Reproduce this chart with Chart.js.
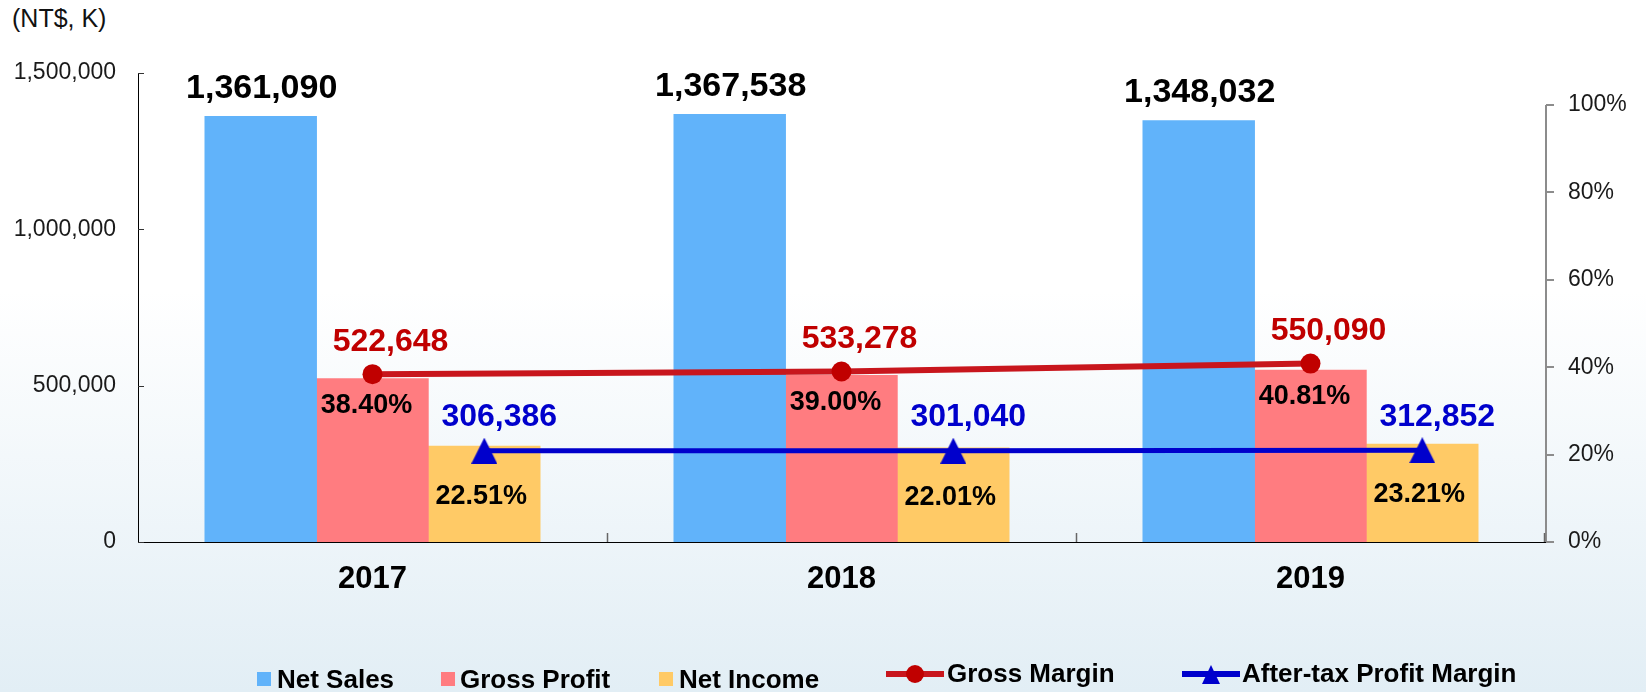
<!DOCTYPE html>
<html><head><meta charset="utf-8">
<script src="https://cdn.jsdelivr.net/npm/chart.js@4.4.1/dist/chart.umd.min.js"></script>
<style>
html,body{margin:0;padding:0;}
body{width:1646px;height:692px;overflow:hidden;position:relative;
  background:linear-gradient(to bottom,#ffffff 0%,#ffffff 42%,#e2eef5 100%);
  font-family:'Liberation Sans',Arial,sans-serif;}
#c{position:absolute;left:0;top:0;}
.unit{position:absolute;left:12px;top:4px;font-size:25px;color:#111;white-space:nowrap;}
.leg{position:absolute;font-weight:bold;font-size:26px;line-height:26px;color:#000;white-space:nowrap;}
.sw{position:absolute;width:14px;height:14px;}
.ic{position:absolute;}
</style></head><body>
<div class="unit">(NT$, K)</div>
<canvas id="c" width="1646" height="692"></canvas>
<div id="legend"></div>
<script>
// ---- data ----
const categories = ['2017', '2018', '2019'];
const netSales = [1361090, 1367538, 1348032];
const grossProfit = [522648, 533278, 550090];
const netIncome = [306386, 301040, 312852];
const grossMargin = [38.40, 39.00, 40.81];
const afterTaxMarginPlotted = [20.9, 20.9, 21.0];
const afterTaxMarginText = ['22.51%', '22.01%', '23.21%'];
const leftTicks = [0, 500000, 1000000, 1500000];
const rightTicks = [0, 20, 40, 60, 80, 100];
const seriesNames = ['Net Sales', 'Gross Profit', 'Net Income', 'Gross Margin', 'After-tax Profit Margin'];

// ---- styles ----
const FONT = "'Liberation Sans', Arial, sans-serif";
const C_NS = '#61b3fa', C_GP = '#ff7c80', C_NI = '#ffca66';
const C_RED_LINE = '#c8161d', C_RED_MK = '#c00000', C_BLUE = '#0000cc';
const GROUP_FRAC = 0.715;            // share of a category taken by the 3-bar group
const SLOT = GROUP_FRAC / 3;         // one bar slot, in category units
const fmt = v => v.toLocaleString('en-US');
// place series k (0..2) of category i on the hidden linear axis
const slotPoints = (arr, k) => arr.map((v, i) => ({ x: i + (k - 1) * SLOT, y: v }));

function triangleImg(w, h, color) {
  const cv = document.createElement('canvas');
  cv.width = w; cv.height = h;
  const g = cv.getContext('2d');
  g.fillStyle = color;
  g.beginPath(); g.moveTo(0, h); g.lineTo(w / 2, 0); g.lineTo(w, h); g.closePath(); g.fill();
  return cv;
}
const triMarker = triangleImg(26, 26, C_BLUE);

const overlay = {
  id: 'overlay',
  afterDraw(chart) {
    const ctx = chart.ctx;
    const ca = chart.chartArea;
    const y = chart.scales.y, y1 = chart.scales.y1, x = chart.scales.x;
    ctx.save();
    // left ticks (inside)
    ctx.strokeStyle = '#333'; ctx.lineWidth = 1;
    leftTicks.forEach(v => {
      const py = Math.round(y.getPixelForValue(v)) + 0.5;
      ctx.beginPath(); ctx.moveTo(ca.left, py); ctx.lineTo(ca.left + 6, py); ctx.stroke();
    });
    // right axis line + ticks
    ctx.strokeStyle = '#8c8c8c'; ctx.lineWidth = 2;
    const rx = ca.right + 1;
    ctx.beginPath(); ctx.moveTo(rx, y1.getPixelForValue(0)); ctx.lineTo(rx, y1.getPixelForValue(100)); ctx.stroke();
    rightTicks.forEach(v => {
      const py = Math.round(y1.getPixelForValue(v));
      ctx.beginPath(); ctx.moveTo(rx, py); ctx.lineTo(rx + 8, py); ctx.stroke();
    });
    // x ticks (inside, at category boundaries)
    ctx.strokeStyle = '#666'; ctx.lineWidth = 1.5;
    for (let i = 0; i < categories.length; i++) {
      const bx = i < categories.length - 1
        ? (x.getPixelForValue(i) + x.getPixelForValue(i + 1)) / 2
        : ca.right - 1;
      ctx.beginPath(); ctx.moveTo(Math.round(bx) + 0.5, ca.bottom); ctx.lineTo(Math.round(bx) + 0.5, ca.bottom - 9); ctx.stroke();
    }
    // labels
    ctx.textAlign = 'center'; ctx.textBaseline = 'middle';
    const ns = chart.getDatasetMeta(0).data, gp = chart.getDatasetMeta(1).data, ni = chart.getDatasetMeta(2).data;
    const gm = chart.getDatasetMeta(3).data, at = chart.getDatasetMeta(4).data;
    ctx.font = `bold 34px ${FONT}`; ctx.fillStyle = '#000';
    ns.forEach((b, i) => ctx.fillText(fmt(netSales[i]), b.x + 1, b.y - 28));
    ctx.font = `bold 32px ${FONT}`; ctx.fillStyle = C_RED_MK;
    gm.forEach((p, i) => ctx.fillText(fmt(grossProfit[i]), p.x + 18, p.y - 32));
    ctx.fillStyle = C_BLUE;
    at.forEach((p, i) => ctx.fillText(fmt(netIncome[i]), p.x + 15, p.y - 33));
    ctx.font = `bold 27px ${FONT}`; ctx.fillStyle = '#000';
    gp.forEach((b, i) => ctx.fillText(grossMargin[i].toFixed(2) + '%', b.x - 6, b.y + 27));
    ni.forEach((b, i) => ctx.fillText(afterTaxMarginText[i], b.x - 3, b.y + 50));
    ctx.restore();
  }
};

const barCommon = { type: 'bar', yAxisID: 'y', xAxisID: 'x2', order: 3, grouped: false,
  barPercentage: 1, categoryPercentage: 1 };

new Chart(document.getElementById('c'), {
  type: 'bar',
  data: {
    labels: categories,
    datasets: [
      { ...barCommon, label: seriesNames[0], data: slotPoints(netSales, 0), backgroundColor: C_NS },
      { ...barCommon, label: seriesNames[1], data: slotPoints(grossProfit, 1), backgroundColor: C_GP },
      { ...barCommon, label: seriesNames[2], data: slotPoints(netIncome, 2), backgroundColor: C_NI },
      { type: 'line', label: seriesNames[3], data: grossMargin, yAxisID: 'y1', xAxisID: 'x', order: 1,
        borderColor: C_RED_LINE, borderWidth: 6, pointRadius: 10, pointHoverRadius: 10, pointStyle: 'circle',
        pointBackgroundColor: C_RED_MK, pointBorderWidth: 0, tension: 0 },
      { type: 'line', label: seriesNames[4], yAxisID: 'y1', xAxisID: 'x2', order: 0,
        data: slotPoints(afterTaxMarginPlotted, 2),
        borderColor: C_BLUE, borderWidth: 5, pointStyle: triMarker, pointRadius: 13, tension: 0 }
    ]
  },
  options: {
    responsive: false, animation: false, devicePixelRatio: 1,
    layout: { padding: { top: 73, left: 0, right: 0, bottom: 0 } },
    plugins: { legend: { display: false }, tooltip: { enabled: false } },
    scales: {
      x: { type: 'category', offset: true,
        grid: { display: false, drawTicks: false },
        border: { display: true, color: '#000', width: 1 },
        ticks: { font: { family: FONT, size: 31, weight: 'bold' }, color: '#000', padding: 19 },
        afterFit: s => { s.height = 150; } },
      x2: { type: 'linear', display: false, min: -0.5, max: 2.5, offset: false },
      y: { type: 'linear', position: 'left', min: 0, max: 1500000,
        afterBuildTicks: s => { s.ticks = leftTicks.map(v => ({ value: v })); },
        grid: { display: false, drawTicks: false },
        border: { display: true, color: '#000', width: 1 },
        ticks: { font: { family: FONT, size: 23 }, color: '#1a1a1a', padding: 22, callback: v => fmt(v) },
        afterFit: s => { s.width = 138; } },
      y1: { type: 'linear', position: 'right', min: 0, max: 107.3,
        afterBuildTicks: s => { s.ticks = rightTicks.map(v => ({ value: v })); },
        grid: { display: false, drawTicks: false },
        border: { display: false },
        ticks: { font: { family: FONT, size: 23 }, color: '#1a1a1a', padding: 23, callback: v => v + '%' },
        afterFit: s => { s.width = 101; } }
    }
  },
  plugins: [overlay]
});

// ---- legend (HTML) ----
const legend = document.getElementById('legend');
function add(html) { legend.insertAdjacentHTML('beforeend', html); }
const barItems = [
  { name: seriesNames[0], color: C_NS, sw: 257, tx: 277 },
  { name: seriesNames[1], color: C_GP, sw: 441, tx: 460 },
  { name: seriesNames[2], color: C_NI, sw: 659, tx: 679 }
];
barItems.forEach(it => {
  add(`<div class="sw" style="left:${it.sw}px;top:672px;background:${it.color}"></div>`);
  add(`<div class="leg" style="left:${it.tx}px;top:666px">${it.name}</div>`);
});
function lineIcon(left, color, lineColor, marker) {
  const cv = document.createElement('canvas');
  cv.width = 58; cv.height = 24; cv.className = 'ic';
  cv.style.left = left + 'px'; cv.style.top = '662px';
  const g = cv.getContext('2d');
  g.strokeStyle = lineColor; g.lineWidth = 6;
  g.beginPath(); g.moveTo(0, 12); g.lineTo(58, 12); g.stroke();
  g.fillStyle = color;
  if (marker === 'circle') { g.beginPath(); g.arc(29, 12, 9, 0, Math.PI * 2); g.fill(); }
  else { g.beginPath(); g.moveTo(20, 22); g.lineTo(29, 3); g.lineTo(38, 22); g.closePath(); g.fill(); }
  legend.appendChild(cv);
}
lineIcon(886, C_RED_MK, C_RED_LINE, 'circle');
add(`<div class="leg" style="left:947px;top:660px">${seriesNames[3]}</div>`);
lineIcon(1182, C_BLUE, C_BLUE, 'triangle');
add(`<div class="leg" style="left:1242px;top:660px">${seriesNames[4]}</div>`);
</script>
</body></html>
